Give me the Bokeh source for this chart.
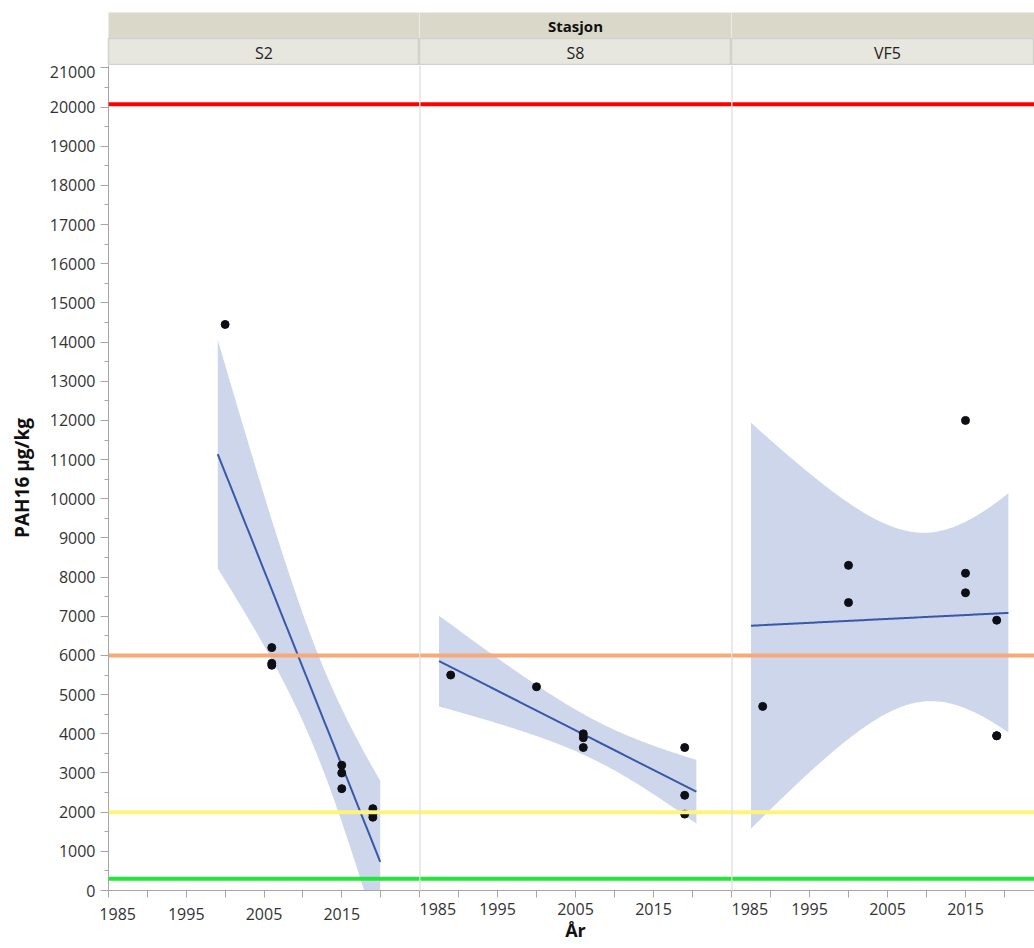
import math
import numpy as np
from bokeh.plotting import figure
from bokeh.layouts import column, row
from bokeh.models import Range1d, FixedTicker, SingleIntervalTicker, Span, Label
from bokeh.embed import file_html
from bokeh.resources import INLINE

# PAH16 in sediment (µg/kg) per station and sampling year
stations = ["S2", "S8", "VF5"]

s2_year = [2000, 2006, 2006, 2006, 2015, 2015, 2015, 2019, 2019, 2019]
s2_pah = [14450, 6200, 5800, 5750, 3200, 3000, 2600, 2090, 1950, 1870]

s8_year = [1989, 2000, 2006, 2006, 2006, 2019, 2019, 2019]
s8_pah = [5500, 5200, 4000, 3900, 3650, 3650, 2430, 1950]

vf5_year = [1989, 2000, 2000, 2015, 2015, 2015, 2019, 2019, 2019]
vf5_pah = [4700, 8300, 7350, 12000, 8100, 7600, 6900, 3950, 3950]

# condition class limits (I/II, II/III, III/IV, IV/V)
limit_values = [300, 2000, 6000, 20070]
limit_colors = ["#22E639", "#FFF47A", "#F9A878", "#FF0000"]

year_ticks = [1985, 1995, 2005, 2015]
year_minor = [1990, 2000, 2010, 2020]

FONT = "Open Sans"
TICK_COLOR = "#333333"
AXIS_GREY = "#A6A6A6"
BAND_FILL = "#CDD6EA"
FIT_COLOR = "#3858A8"
FIG_SPACE = "\u2007"


def t_crit(df, q=0.975):
    xs = np.linspace(0.0, 12.0, 24001)
    c = math.gamma((df + 1) / 2) / (math.sqrt(df * math.pi) * math.gamma(df / 2))
    pdf = c * (1 + xs ** 2 / df) ** (-(df + 1) / 2)
    cdf = 0.5 + np.concatenate([[0.0], np.cumsum((pdf[1:] + pdf[:-1]) / 2 * np.diff(xs))])
    return float(np.interp(q, cdf, xs))


def linear_fit(years, values):
    x = np.asarray(years, float)
    y = np.asarray(values, float)
    n = len(x)
    xm, ym = x.mean(), y.mean()
    sxx = ((x - xm) ** 2).sum()
    b = ((x - xm) * (y - ym)).sum() / sxx
    a = ym - b * xm
    s = math.sqrt(((y - (a + b * x)) ** 2).sum() / (n - 2))
    pad = 0.05 * (x.max() - x.min())
    xs = np.linspace(x.min() - pad, x.max() + pad, 150)
    fit = a + b * xs
    half = t_crit(n - 2) * s * np.sqrt(1.0 / n + (xs - xm) ** 2 / sxx)
    return xs, fit, fit - half, fit + half


series = [(s2_year, s2_pah), (s8_year, s8_pah), (vf5_year, vf5_pah)]
frame_widths = [311, 312, 303]
x_start = 1985
x_mid = 2005
x_ends = [2025, 2025, 1985 + 303 / 7.8]
left_border = 108

y_range = Range1d(0, 21060)


def bare(fig):
    fig.grid.visible = False
    fig.outline_line_color = None
    fig.border_fill_color = "white"
    return fig


band_figs, head_figs, data_figs = [], [], []
for i, (name, (yrs, vals)) in enumerate(zip(stations, series)):
    xr = Range1d(x_start, x_ends[i])
    lb = left_border if i == 0 else 0

    # outer facet strip
    band = bare(figure(frame_width=frame_widths[i], frame_height=26, x_range=xr,
                       y_range=Range1d(0, 1), x_axis_location=None, y_axis_location=None,
                       min_border_left=lb, min_border_right=0, min_border_top=12,
                       min_border_bottom=0, background_fill_color="#DAD8C9",
                       output_backend="svg", toolbar_location=None))
    if i == 1:
        band.add_layout(Label(x=x_mid, y=0.5, text="Stasjon",
                              text_align="center", text_baseline="middle",
                              text_font=FONT, text_font_size="15px",
                              text_font_style="bold", text_color="#111111"))
    band_figs.append(band)

    # station strip
    head = bare(figure(frame_width=frame_widths[i], frame_height=27, x_range=xr,
                       y_range=Range1d(0, 1), x_axis_location=None, y_axis_location=None,
                       min_border_left=lb, min_border_right=0, min_border_top=0,
                       min_border_bottom=0, background_fill_color="#E7E6DF",
                       output_backend="svg", toolbar_location=None))
    head.outline_line_color = "#D3D2CA"
    head.outline_line_width = 1.5
    head.add_layout(Label(x=x_mid, y=0.45, text=name,
                          text_align="center", text_baseline="middle",
                          text_font=FONT, text_font_size="16px", text_color="#222222"))
    head_figs.append(head)

    # data panel
    p = bare(figure(frame_width=frame_widths[i], frame_height=825, x_range=xr,
                    y_range=y_range, y_axis_location="left" if i == 0 else None,
                    min_border_left=lb, min_border_right=0, min_border_top=0,
                    min_border_bottom=57, output_backend="svg", toolbar_location=None))

    xs, fit, lo, hi = linear_fit(yrs, vals)
    p.varea(x=xs, y1=lo, y2=hi, fill_color=BAND_FILL, fill_alpha=1.0)
    p.line(xs, fit, line_color=FIT_COLOR, line_width=2)
    p.scatter(yrs, vals, size=8, fill_color="#0E0E16", line_color="#0E0E16")

    for v, c in zip(limit_values, limit_colors):
        p.add_layout(Span(location=v, dimension="width", line_color=c, line_width=4))

    if i > 0:
        p.add_layout(Span(location=x_start, dimension="height",
                          line_color="#D6D6D6", line_width=2))

    xa = p.xaxis[0]
    xa.ticker = FixedTicker(ticks=year_ticks, minor_ticks=year_minor)
    if i == 0:
        # nudge the first year label to the right of its tick
        xa.major_label_overrides = {year_ticks[0]: FIG_SPACE * 2 + str(year_ticks[0])}
    xa.major_tick_in = 0
    xa.major_tick_out = 7
    xa.minor_tick_in = 0
    xa.minor_tick_out = 7
    xa.axis_line_color = AXIS_GREY
    xa.major_tick_line_color = AXIS_GREY
    xa.minor_tick_line_color = AXIS_GREY
    xa.major_label_text_font = FONT
    xa.major_label_text_font_size = "16px"
    xa.major_label_text_color = TICK_COLOR
    xa.major_label_standoff = 5
    if i == 1:
        xa.axis_label = "År"
        xa.axis_label_text_font = FONT
        xa.axis_label_text_font_size = "18px"
        xa.axis_label_text_font_style = "bold"
        xa.axis_label_text_color = "#111111"
        xa.axis_label_standoff = 0

    if i == 0:
        ya = p.yaxis[0]
        ya.ticker = SingleIntervalTicker(interval=1000, num_minor_ticks=2)
        ya.major_tick_in = 0
        ya.major_tick_out = 8
        ya.minor_tick_in = 0
        ya.minor_tick_out = 4
        ya.axis_line_color = AXIS_GREY
        ya.major_tick_line_color = AXIS_GREY
        ya.minor_tick_line_color = AXIS_GREY
        ya.major_label_text_font = FONT
        ya.major_label_text_font_size = "16px"
        ya.major_label_text_color = TICK_COLOR
        ya.major_label_standoff = 5
        ya.axis_label = "PAH16 µg/kg"
        ya.axis_label_text_font = FONT
        ya.axis_label_text_font_size = "19px"
        ya.axis_label_text_font_style = "bold"
        ya.axis_label_text_color = "#111111"
        ya.axis_label_standoff = 12
    data_figs.append(p)

layout = column(row(*band_figs), row(*head_figs), row(*data_figs))

with open("out.html", "w") as f:
    f.write(file_html(layout, INLINE))
